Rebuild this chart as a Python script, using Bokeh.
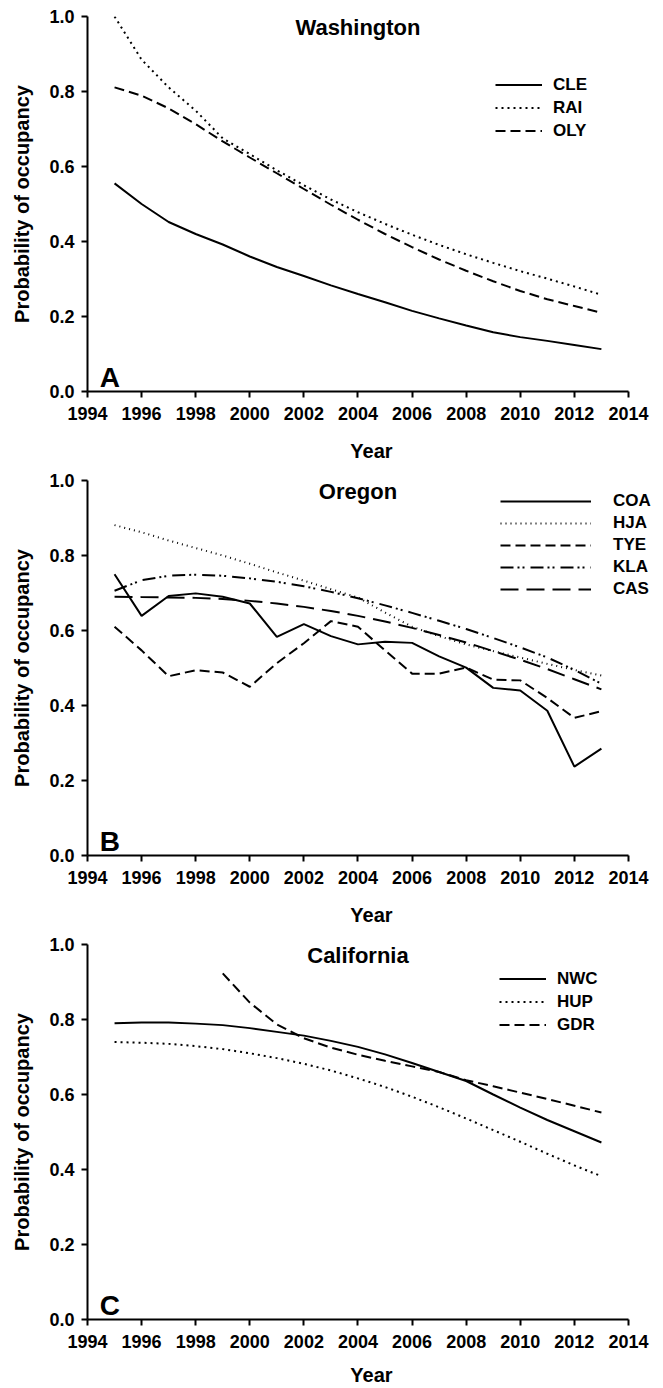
from bokeh.plotting import figure
from bokeh.models import (Legend, LegendItem, Label, FixedTicker,
                          PrintfTickFormatter, Range1d, ColumnDataSource)
from bokeh.layouts import column
from bokeh.embed import file_html
from bokeh.resources import INLINE

FONT = "Liberation Sans"

# ---------------- data ----------------
YEARS = [1995, 1996, 1997, 1998, 1999, 2000, 2001, 2002, 2003, 2004,
         2005, 2006, 2007, 2008, 2009, 2010, 2011, 2012, 2013]
YEARS_GDR = [1999, 2000, 2001, 2002, 2003, 2004, 2005, 2006, 2007,
             2008, 2009, 2010, 2011, 2012, 2013]

# Washington
CLE = [0.555, 0.500, 0.452, 0.420, 0.392, 0.360, 0.332, 0.308, 0.283, 0.260,
       0.238, 0.215, 0.195, 0.176, 0.158, 0.145, 0.135, 0.124, 0.113]
RAI = [1.000, 0.885, 0.811, 0.749, 0.675, 0.633, 0.590, 0.550, 0.512, 0.478,
       0.447, 0.418, 0.391, 0.366, 0.343, 0.321, 0.301, 0.280, 0.258]
OLY = [0.811, 0.789, 0.755, 0.713, 0.667, 0.624, 0.582, 0.540, 0.498, 0.458,
       0.420, 0.385, 0.352, 0.322, 0.294, 0.268, 0.246, 0.228, 0.210]

# Oregon
COA = [0.750, 0.639, 0.692, 0.699, 0.690, 0.672, 0.583, 0.617, 0.585, 0.563,
       0.570, 0.567, 0.531, 0.501, 0.447, 0.440, 0.386, 0.237, 0.285]
HJA = [0.881, 0.862, 0.840, 0.820, 0.800, 0.778, 0.755, 0.733, 0.710, 0.688,
       0.648, 0.610, 0.585, 0.563, 0.545, 0.528, 0.511, 0.495, 0.480]
TYE = [0.610, 0.547, 0.478, 0.494, 0.488, 0.450, 0.513, 0.566, 0.625, 0.610,
       0.547, 0.485, 0.485, 0.501, 0.469, 0.467, 0.420, 0.367, 0.385]
KLA = [0.706, 0.734, 0.746, 0.749, 0.746, 0.739, 0.730, 0.718, 0.703, 0.686,
       0.667, 0.647, 0.626, 0.604, 0.580, 0.555, 0.528, 0.495, 0.458]
CAS = [0.690, 0.689, 0.688, 0.687, 0.684, 0.679, 0.672, 0.663, 0.652, 0.639,
       0.624, 0.607, 0.588, 0.568, 0.545, 0.522, 0.497, 0.470, 0.443]

# California
NWC = [0.790, 0.792, 0.792, 0.789, 0.785, 0.777, 0.767, 0.757, 0.743, 0.727,
       0.707, 0.684, 0.660, 0.636, 0.600, 0.565, 0.532, 0.502, 0.472]
HUP = [0.740, 0.738, 0.735, 0.729, 0.721, 0.710, 0.697, 0.682, 0.664, 0.643,
       0.620, 0.594, 0.566, 0.536, 0.505, 0.474, 0.442, 0.411, 0.382]
GDR = [0.923, 0.845, 0.787, 0.750, 0.725, 0.706, 0.690, 0.675, 0.660, 0.638,
       0.622, 0.605, 0.588, 0.570, 0.552]

X_TICKS = [1994, 1996, 1998, 2000, 2002, 2004, 2006, 2008, 2010, 2012, 2014]
Y_TICKS = [0.0, 0.2, 0.4, 0.6, 0.8, 1.0]


def make_panel(title, letter, series, legend_xy, glyph_w, standoff, row_h,
               height, border_top, border_bottom, xlabel_standoff):
    p = figure(width=660, height=height, output_backend="svg",
               toolbar_location=None,
               x_range=Range1d(1994, 2015), y_range=Range1d(0, 1),
               min_border_left=87, min_border_right=5,
               min_border_top=border_top, min_border_bottom=border_bottom)
    p.outline_line_color = None
    p.xgrid.grid_line_color = None
    p.ygrid.grid_line_color = None
    p.background_fill_color = "white"
    p.border_fill_color = "white"

    for ax in (p.xaxis[0], p.yaxis[0]):
        ax.axis_line_width = 2
        ax.axis_line_color = "black"
        ax.major_tick_line_width = 2
        ax.major_tick_line_color = "black"
        ax.major_tick_in = 0
        ax.major_tick_out = 6
        ax.minor_tick_line_color = None
        ax.major_label_text_font = FONT
        ax.major_label_text_font_style = "bold"
        ax.major_label_text_font_size = "18px"
        ax.major_label_text_color = "black"
        ax.axis_label_text_font = FONT
        ax.axis_label_text_font_style = "bold"
        ax.axis_label_text_color = "black"

    p.xaxis.ticker = FixedTicker(ticks=X_TICKS)
    p.xaxis.bounds = (1994, 2014)
    p.yaxis.ticker = FixedTicker(ticks=Y_TICKS)
    p.yaxis.formatter = PrintfTickFormatter(format="%.1f")
    p.xaxis.axis_label = "Year"
    p.xaxis.axis_label_text_font_size = "20px"
    p.xaxis.major_label_standoff = 9
    p.xaxis.axis_label_standoff = xlabel_standoff
    p.yaxis.axis_label = "Probability of occupancy"
    p.yaxis.axis_label_text_font_size = "20px"
    p.yaxis.major_label_standoff = 7
    p.yaxis.axis_label_standoff = 13

    items = []
    for name, xs, ys, dash in series:
        src = ColumnDataSource(data=dict(x=xs, y=ys))
        r = p.line("x", "y", source=src, line_color="black", line_width=2,
                   line_dash=dash)
        items.append(LegendItem(label=name, renderers=[r]))

    legend = Legend(items=items, location=legend_xy,
                    glyph_width=glyph_w, glyph_height=row_h,
                    label_height=row_h, spacing=0, padding=0, margin=0,
                    label_standoff=standoff,
                    border_line_color=None, background_fill_alpha=0,
                    label_text_font=FONT, label_text_font_style="bold",
                    label_text_font_size="17px", label_text_color="black")
    p.add_layout(legend)

    p.add_layout(Label(x=2004, y=0.97, text=title, text_align="center",
                       text_baseline="middle", text_font=FONT,
                       text_font_style="bold", text_font_size="22px",
                       text_color="black"))
    p.add_layout(Label(x=1994.45, y=0.038, text=letter, text_align="left",
                       text_baseline="alphabetic", text_font=FONT,
                       text_font_style="bold", text_font_size="28px",
                       text_color="black"))
    return p


pA = make_panel("Washington", "A",
                [("CLE", YEARS, CLE, "solid"),
                 ("RAI", YEARS, RAI, "2 4"),
                 ("OLY", YEARS, OLY, "10 5")],
                (408, 249), 47, 11, 23, 472, 16, 81, 17)

pB = make_panel("Oregon", "B",
                [("COA", YEARS, COA, "solid"),
                 ("HJA", YEARS, HJA, "1 4"),
                 ("TYE", YEARS, TYE, "10 5"),
                 ("KLA", YEARS, KLA, "13 4 2 3 2 6"),
                 ("CAS", YEARS, CAS, "18 8")],
                (413, 255), 91, 22, 22, 464, 8, 81, 17)

pC = make_panel("California", "C",
                [("NWC", YEARS, NWC, "solid"),
                 ("HUP", YEARS, HUP, "2 4"),
                 ("GDR", YEARS_GDR, GDR, "10 5")],
                (412, 283), 47, 11, 23, 452, 8, 69, 13)

layout = column(pA, pB, pC, spacing=0)
open("out.html", "w").write(file_html(layout, INLINE))
